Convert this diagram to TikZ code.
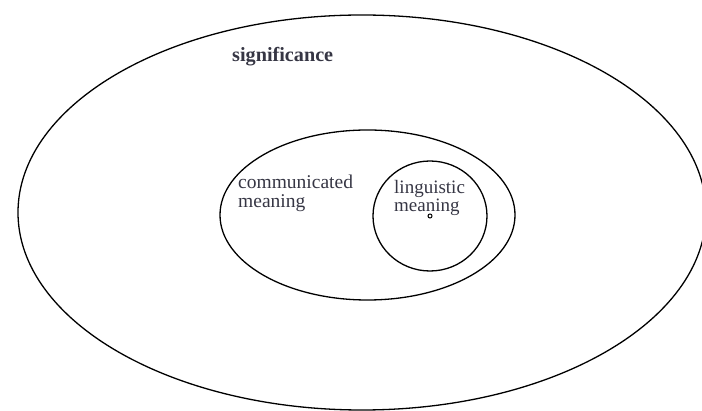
\documentclass[tikz,border=0pt]{standalone}
\usepackage{fontspec}
\setmainfont{Liberation Serif}
\usetikzlibrary{shapes.geometric}
\definecolor{txt}{HTML}{363644}
\begin{document}
\begin{tikzpicture}[x=1pt,y=-1pt,
  ring/.style={draw=black, line width=1.3pt, ellipse, inner sep=0pt},
  lbl/.style={text=txt, align=left, inner sep=0pt}]
\useasboundingbox (0,0) rectangle (702,411);
\node[ring, minimum width=688pt, minimum height=395pt] (outer) at (362,212.5) {};
\node[ring, minimum width=295pt, minimum height=170pt] (mid) at (367.5,215) {};
\node[ring, minimum width=114pt, minimum height=110pt] (inner) at (430,216) {};
\node[lbl, font=\fontsize{20.2}{21}\selectfont\bfseries, anchor=base west] (sig) at (232,62) {significance};
\node[lbl, font=\fontsize{19.5}{18.7}\selectfont, anchor=north west] (comm) at (238,175) {communicated\\meaning};
\node[lbl, font=\fontsize{19}{16}\selectfont, anchor=north west] (ling) at (394,180) {linguistic\\meaning};
\node[circle, draw=black, line width=1pt, minimum size=4pt, inner sep=0pt] (dot) at (430,216) {};
\end{tikzpicture}
\end{document}
